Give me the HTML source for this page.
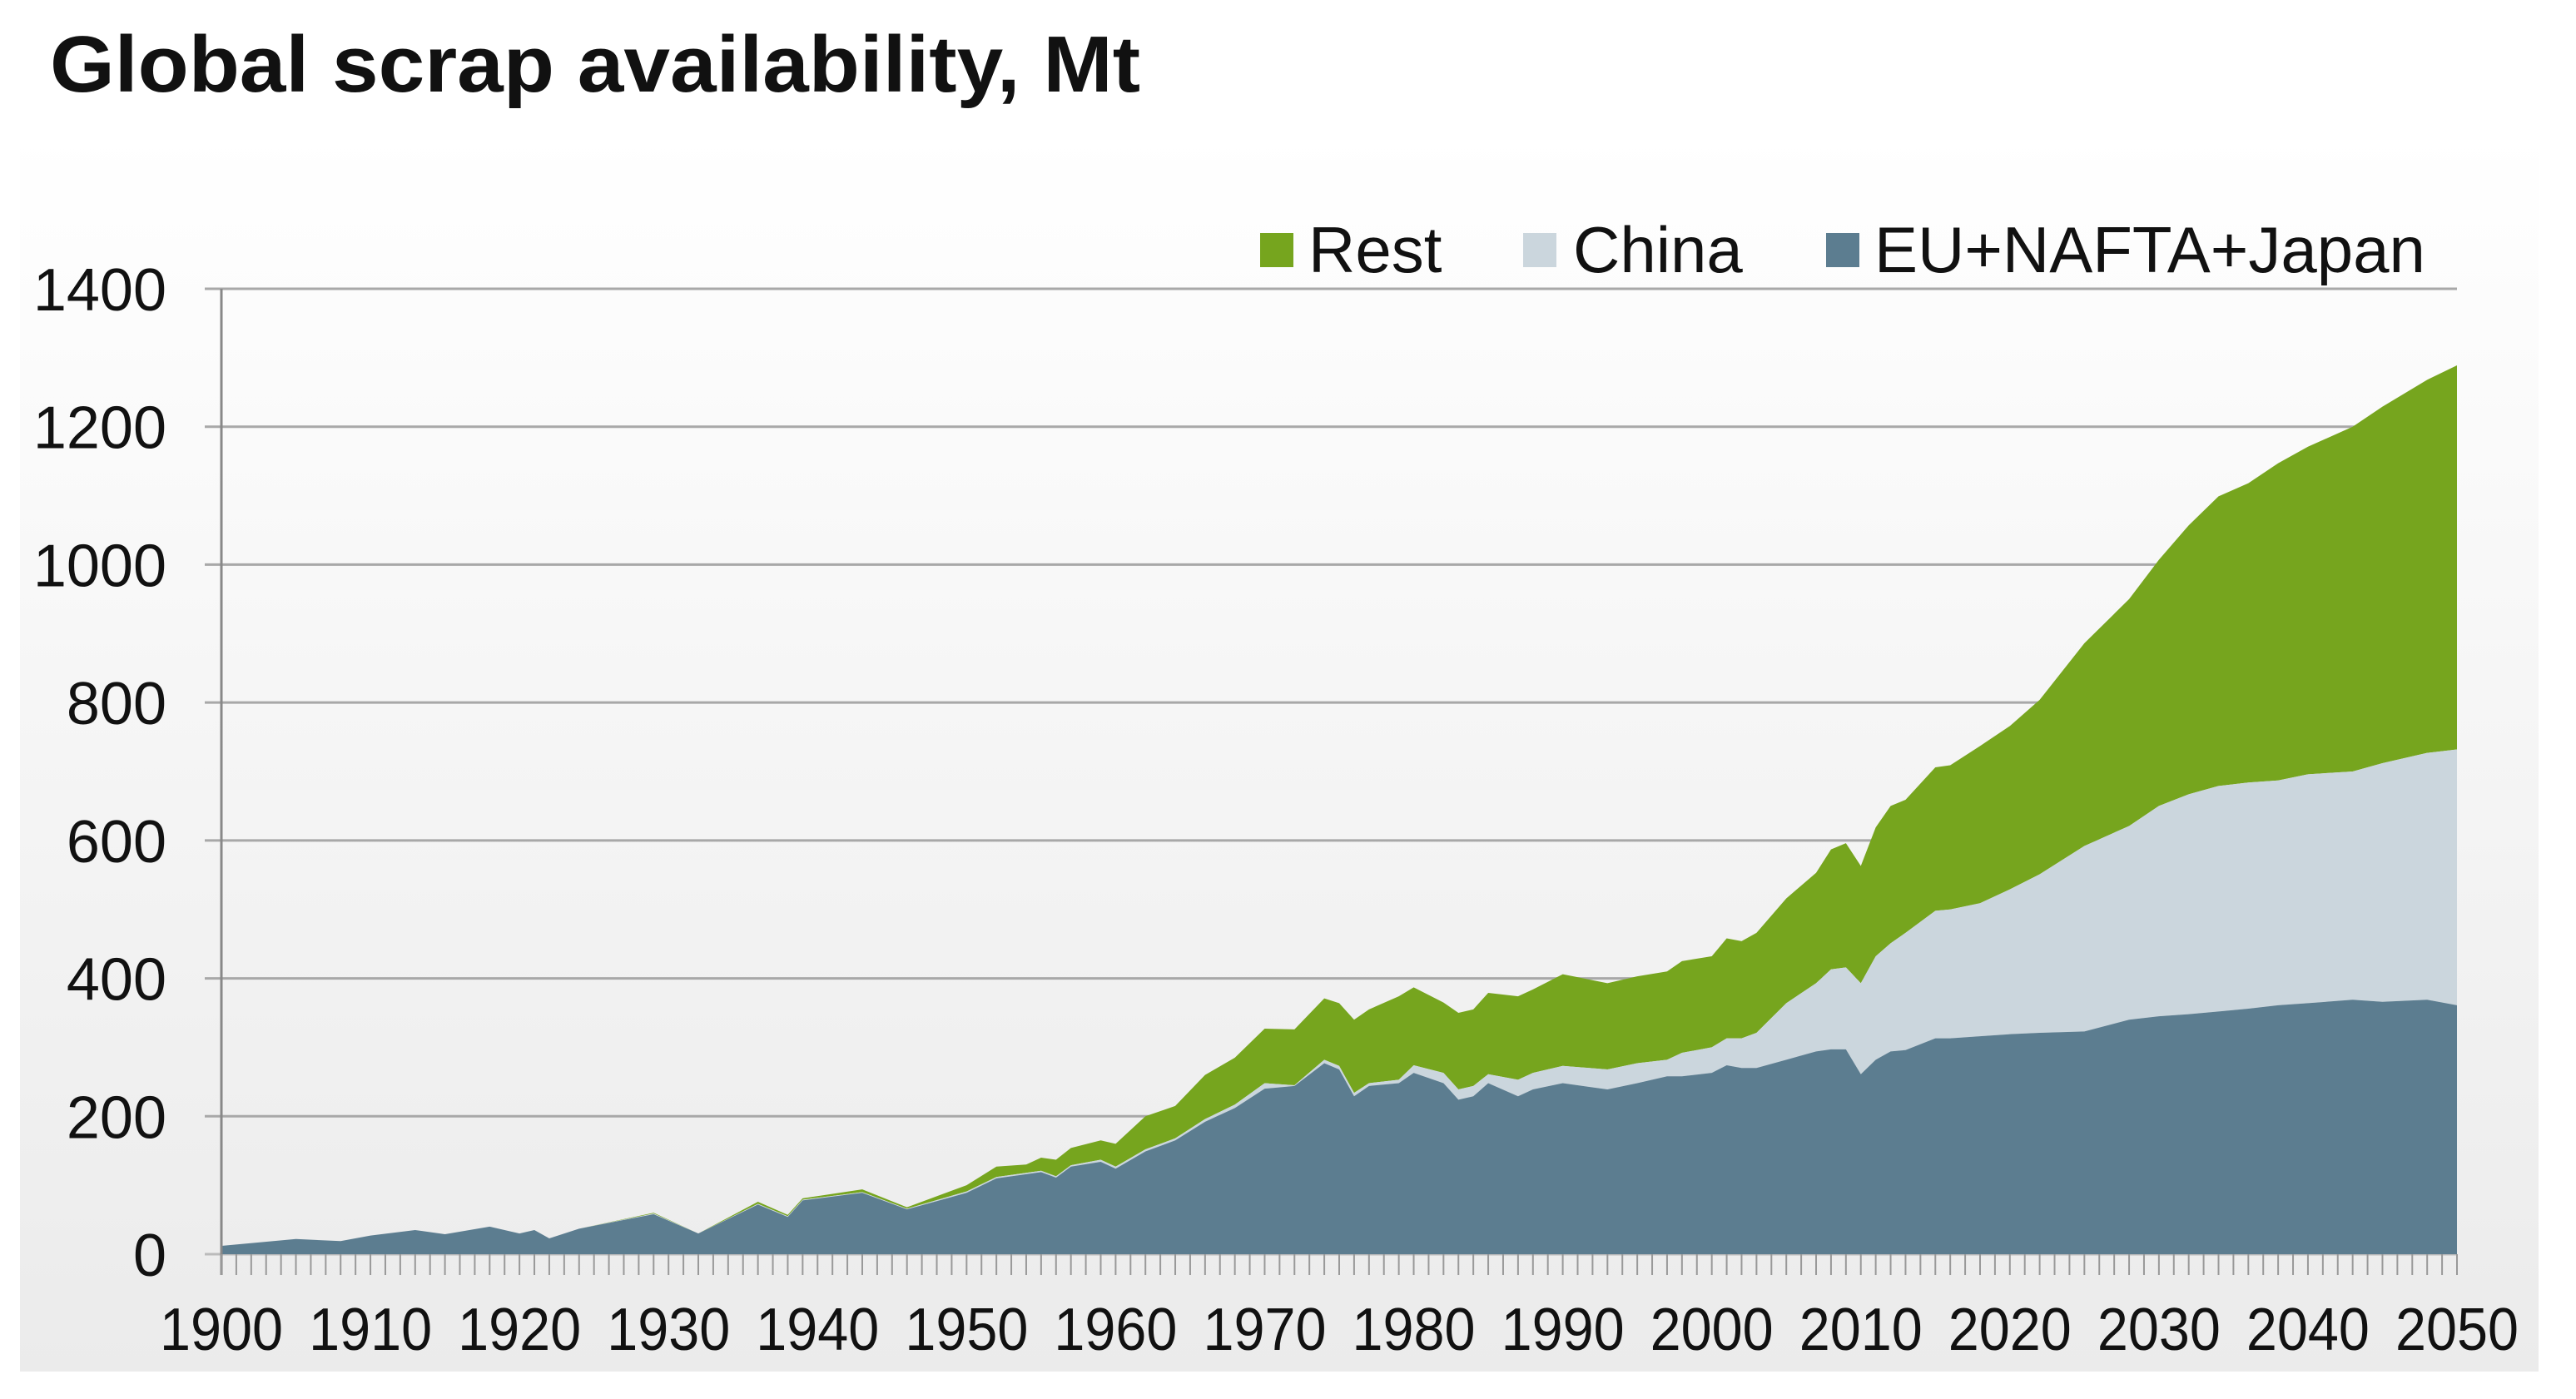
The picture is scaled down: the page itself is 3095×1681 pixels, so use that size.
<!DOCTYPE html>
<html><head><meta charset="utf-8"><style>
html,body{margin:0;padding:0;background:#fff;}
body{width:3095px;height:1676px;overflow:hidden;font-family:"Liberation Sans",sans-serif;}
</style></head><body>
<svg id="chart" width="3095" height="1676" viewBox="0 0 3095 1676" xmlns="http://www.w3.org/2000/svg">
<defs><linearGradient id="bg" x1="0" y1="0" x2="0" y2="1"><stop offset="0" stop-color="#ffffff"/><stop offset="1" stop-color="#ebebeb"/></linearGradient></defs>
<rect x="24" y="158" width="3026" height="1490" fill="url(#bg)"/>
<text x="60" y="110" font-size="96" font-weight="bold" fill="#111" textLength="1310" lengthAdjust="spacingAndGlyphs">Global scrap availability, Mt</text>
<g id="grid"></g><g id="areas"></g><g id="axes"></g>
<g>
<rect x="1514" y="280" width="40" height="41" fill="#76a51e"/>
<text x="1572" y="327" font-size="78" fill="#111">Rest</text>
<rect x="1830" y="280" width="40" height="41" fill="#cbd6dd"/>
<text x="1890" y="327" font-size="78" fill="#111">China</text>
<rect x="2194" y="280" width="40" height="41" fill="#5c7d90"/>
<text x="2252" y="327" font-size="78" fill="#111">EU+NAFTA+Japan</text>
</g>
</svg>
<script>
const years=[1900,1905,1908,1910,1913,1915,1918,1920,1921,1922,1924,1929,1932,1936,1938,1939,1943,1946,1950,1952,1954,1955,1956,1957,1959,1960,1962,1964,1966,1968,1970,1972,1974,1975,1976,1977,1979,1980,1982,1983,1984,1985,1987,1988,1990,1993,1995,1997,1998,2000,2001,2002,2003,2005,2007,2008,2009,2010,2011,2012,2013,2015,2016,2018,2020,2022,2025,2028,2030,2032,2034,2036,2038,2040,2043,2045,2048,2050];
const euValues=[12,22,19,27,35,29,40,30,35,23,37,58,30,72,54,78,89,65,89,110,116,119,111,127,134,124,149,165,192,212,240,244,277,268,229,244,248,263,248,224,229,248,229,239,248,239,248,258,258,263,274,270,270,282,294,297,297,261,282,294,296,313,313,316,319,321,323,340,345,348,352,356,361,364,369,366,369,361];
const chinaValues=[0,0,0,0,0,0,0,0,0,0,0,1,0,1,1,1,1,1,2,2,2,2,2,2,3,3,3,3,4,5,8,1,5,5,5,4,5,11,15,15,15,13,24,24,25,29,29,24,34,37,39,43,51,82,99,116,119,132,150,157,170,185,187,193,210,230,269,281,305,319,327,328,326,332,331,346,358,371];
const restValues=[0,0,0,0,0,0,0,0,0,0,0,1,0,3,2,2,4,2,9,15,12,19,24,25,28,33,48,47,64,68,79,81,89,91,106,107,121,113,102,111,111,118,121,121,133,125,126,128,133,132,145,141,145,152,160,174,180,170,187,199,193,208,209,228,237,253,294,329,357,390,420,434,460,475,500,517,541,557];
const yTicks=[0,200,400,600,800,1000,1200,1400];
const xLabels=[1900,1910,1920,1930,1940,1950,1960,1970,1980,1990,2000,2010,2020,2030,2040,2050];
const NS='http://www.w3.org/2000/svg';
const X0=266,X1=2952,Y0=1507,Y1=347;
function xs(y){return X0+(y-1900)/150*(X1-X0);}
function ys(v){return Y0-v/1400*(Y0-Y1);}
function mk(tag,attrs,parent){const e=document.createElementNS(NS,tag);for(const k in attrs)e.setAttribute(k,attrs[k]);parent.appendChild(e);return e;}
const grid=document.getElementById('grid'),areas=document.getElementById('areas'),axes=document.getElementById('axes');
yTicks.forEach(v=>{
  const l=mk('line',{x1:246,x2:X1,y1:ys(v),y2:ys(v),stroke:v===0?'#bbb':'#a8a8a8','stroke-width':3},grid);
  
  
  const t=mk('text',{x:200,y:ys(v)+26,'text-anchor':'end','font-size':72,fill:'#111'},axes);
  t.textContent=v;
  
  
});
const bottom=years.map(()=>0);
const t1=years.map((y,i)=>euValues[i]);
const t2=years.map((y,i)=>t1[i]+chinaValues[i]);
const t3=years.map((y,i)=>t2[i]+restValues[i]);
function area(top,base,color,name){
  let d='M'+xs(years[0])+','+ys(top[0]);
  for(let i=1;i<years.length;i++)d+='L'+xs(years[i])+','+ys(top[i]);
  for(let i=years.length-1;i>=0;i--)d+='L'+xs(years[i])+','+ys(base[i]);
  const p=mk('path',{d:d+'Z',fill:color},areas);
  
  
}
area(t3,t2,'#76a51e','area-rest');
area(t2,t1,'#cbd6dd','area-china');
area(t1,bottom,'#5c7d90','area-eu-nafta-japan');
const ax=mk('line',{x1:X0,x2:X0,y1:Y1,y2:Y0+25,stroke:'#888','stroke-width':3},axes);


for(let y=1900;y<=2050;y++){
  const tk=mk('line',{x1:xs(y),x2:xs(y),y1:Y0,y2:Y0+25,stroke:'#999','stroke-width':2},axes);
  
  
}
xLabels.forEach(y=>{
  const t=mk('text',{x:xs(y),y:1622,'text-anchor':'middle','font-size':72,fill:'#111',textLength:148,lengthAdjust:'spacingAndGlyphs'},axes);
  t.textContent=y;
  
  
});
</script>
</body></html>
